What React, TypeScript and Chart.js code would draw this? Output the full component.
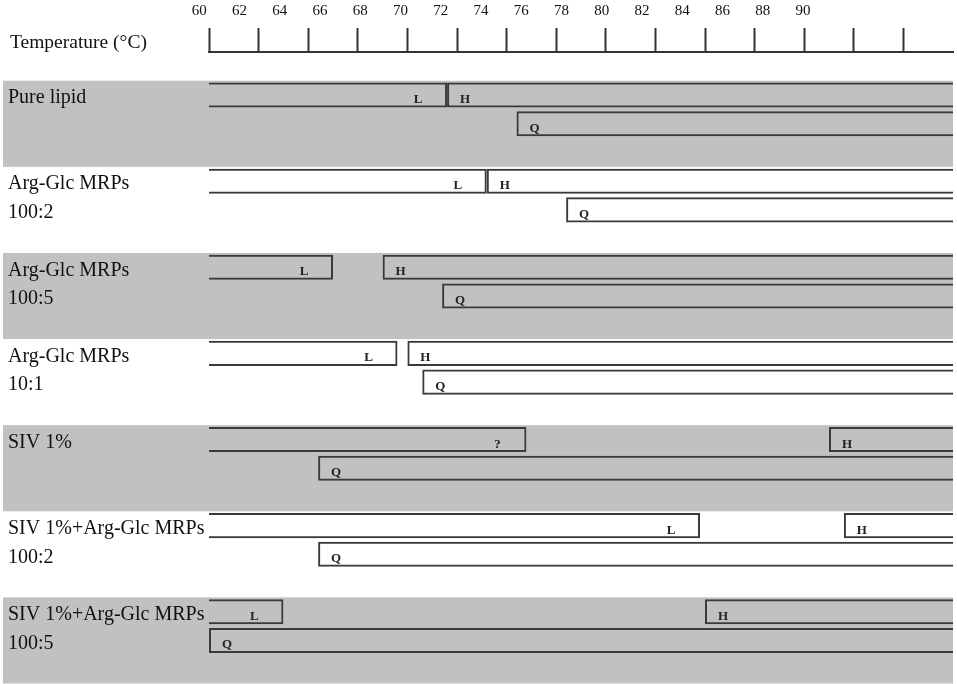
import React, { useEffect, useRef } from "react";
import { Chart, registerables } from "chart.js";

Chart.register(...registerables);

// ---- data ----
const sampleLine1 = [
  "Pure lipid",
  "Arg-Glc MRPs",
  "Arg-Glc MRPs",
  "Arg-Glc MRPs",
  "SIV 1%",
  "SIV 1%+Arg-Glc MRPs",
  "SIV 1%+Arg-Glc MRPs",
];
const sampleLine2 = ["", "100:2", "100:5", "10:1", "", "100:2", "100:5"];
const shadedSamples = [true, false, true, false, true, false, true];

type Range = [number, number] | null;
// phase ranges in °C (upper line: L / ? / H, lower line: Q)
const phaseL: Range[] = [[60, 69.6], [60, 71.2], [60, 65.0], [60, 67.6], null, [60, 79.8], [60, 63.0]];
const phaseUnknown: Range[] = [null, null, null, null, [60, 72.8], null, null];
const phaseH: Range[] = [[69.6, 90], [71.2, 90], [67.0, 90], [68.0, 90], [85.0, 90], [85.6, 90], [80.0, 90]];
const phaseQ: Range[] = [[72.4, 90], [74.4, 90], [69.4, 90], [68.6, 90], [64.4, 90], [64.4, 90], [60, 90]];

const tempTickLabels = [60, 62, 64, 66, 68, 70, 72, 74, 76, 78, 80, 82, 84, 86, 88, 90];
const tempMin = 60;
const tempMax = 90;
const axisTitle = "Temperature (°C)";

// ---- helpers ----
const SERIF = "'Liberation Serif', 'Times New Roman', Times, serif";
const categories: string[] = [""];
sampleLine1.forEach((s, i) => {
  categories.push(s, sampleLine2[i], "");
});
const toRows = (arr: Range[], line: number) => {
  const out: Range[] = [null];
  arr.forEach((r) => {
    out.push(line === 0 ? r : null, line === 1 ? r : null, null);
  });
  return out;
};

const BORDER = "#3a3a3a";
const GRAY = "#c1c1c1";

const bandsPlugin = {
  id: "bands",
  beforeDraw(chart: any) {
    const { ctx, chartArea } = chart;
    const y = chart.scales.y;
    ctx.save();
    shadedSamples.forEach((shaded, i) => {
      if (!shaded) return;
      const first = 1 + i * 3;
      const top = y.getPixelForValue(first - 0.5);
      const bottom = y.getPixelForValue(first + 2.5);
      ctx.fillStyle = GRAY;
      ctx.fillRect(y.left - 5, top, chartArea.right - (y.left - 5), bottom - top);
    });
    ctx.restore();
  },
};

const titlePlugin = {
  id: "tempTitle",
  afterDraw(chart: any) {
    const { ctx } = chart;
    const xs = chart.scales.x;
    const y = chart.scales.y;
    ctx.save();
    ctx.font = `19.5px ${SERIF}`;
    ctx.fillStyle = "#111";
    ctx.textBaseline = "middle";
    ctx.textAlign = "left";
    ctx.fillText(axisTitle, y.left + 2, xs.bottom - 9);
    ctx.restore();
  },
};

const barLabelPlugin = {
  id: "barLabels",
  afterDatasetsDraw(chart: any) {
    const { ctx } = chart;
    ctx.save();
    ctx.font = `bold 13px ${SERIF}`;
    ctx.fillStyle = "#222";
    ctx.textAlign = "center";
    ctx.textBaseline = "alphabetic";
    chart.data.datasets.forEach((ds: any, di: number) => {
      const meta = chart.getDatasetMeta(di);
      meta.data.forEach((el: any, i: number) => {
        if (ds.data[i] == null) return;
        const p = el.getProps(["x", "base", "y"], true);
        const left = Math.min(p.x, p.base);
        const right = Math.max(p.x, p.base);
        const tx = ds.labelAnchor === "end" ? right - 29 : left + 18;
        ctx.fillText(ds.label, tx, p.y + 8);
      });
    });
    ctx.restore();
  },
};

export default function App() {
  const canvasRef = useRef<HTMLCanvasElement | null>(null);

  useEffect(() => {
    if (!canvasRef.current) return;
    Chart.defaults.font.family = SERIF;
    const common = {
      backgroundColor: "rgba(0,0,0,0)",
      borderColor: BORDER,
      borderSkipped: false,
      grouped: false,
      categoryPercentage: 1,
      barPercentage: 0.874,
      inflateAmount: 0,
    };
    const chart = new Chart(canvasRef.current, {
      type: "bar",
      data: {
        labels: categories,
        datasets: [
          { ...common, label: "L", data: toRows(phaseL, 0), labelAnchor: "end", borderWidth: { top: 2, bottom: 2, left: 0, right: 2 } } as any,
          { ...common, label: "?", data: toRows(phaseUnknown, 0), labelAnchor: "end", borderWidth: { top: 2, bottom: 2, left: 0, right: 2 } } as any,
          { ...common, label: "H", data: toRows(phaseH, 0), labelAnchor: "start", borderWidth: { top: 2, bottom: 2, left: 2, right: 0 } } as any,
          { ...common, label: "Q", data: toRows(phaseQ, 1), labelAnchor: "start", borderWidth: { top: 2, bottom: 2, left: 2, right: 0 } } as any,
        ],
      },
      options: {
        indexAxis: "y",
        animation: false,
        responsive: true,
        maintainAspectRatio: false,
        layout: { padding: { left: 8, right: 4, top: 2, bottom: 0 } },
        plugins: { legend: { display: false }, tooltip: { enabled: false }, title: { display: false } },
        scales: {
          x: {
            type: "linear",
            position: "top",
            min: tempMin,
            max: tempMax,
            weight: 0,
            title: { display: true, text: "", font: { size: 1, lineHeight: 1 }, padding: { top: 0, bottom: 7 } },
            ticks: { display: false, stepSize: 2 },
            grid: {
              drawOnChartArea: false,
              drawTicks: true,
              tickLength: 24,
              tickWidth: 2,
              tickColor: (c: any) => (c.tick && c.tick.value === tempMax ? "rgba(0,0,0,0)" : "#333"),
            },
            border: { display: true, color: "#333", width: 2 },
          },
          xLabels: {
            type: "linear",
            position: "top",
            min: 60.48,
            max: 97.45,
            weight: 1,
            afterBuildTicks: (scale: any) => {
              scale.ticks = tempTickLabels.map((v) => ({ value: v }));
            },
            ticks: { autoSkip: false, padding: 0, font: { size: 15, family: SERIF }, color: "#111", maxRotation: 0 },
            grid: { display: false, drawTicks: false },
            border: { display: false },
          },
          y: {
            type: "category",
            position: "left",
            afterFit: (scale: any) => {
              scale.width = 201;
            },
            ticks: {
              autoSkip: false,
              crossAlign: "far",
              padding: 0,
              labelOffset: 3,
              font: { size: 20, family: SERIF, lineHeight: 0.05 },
              color: "#111",
            },
            grid: { display: false, drawTicks: false },
            border: { display: false },
          },
        },
      } as any,
      plugins: [bandsPlugin, titlePlugin, barLabelPlugin],
    });
    return () => chart.destroy();
  }, []);

  return (
    <div style={{ position: "fixed", left: 0, top: 0, width: 957, height: 684, background: "#fff" }}>
      <canvas ref={canvasRef} />
    </div>
  );
}
